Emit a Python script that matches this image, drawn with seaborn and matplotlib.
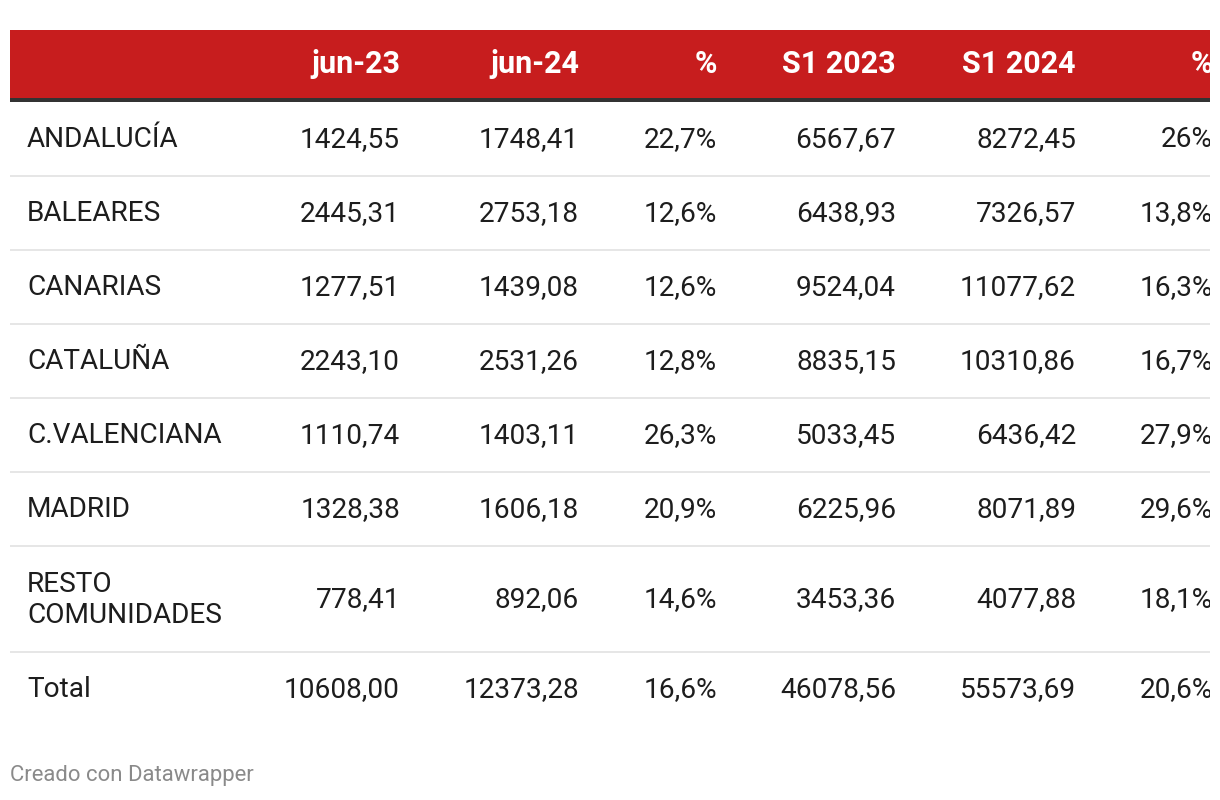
import matplotlib
matplotlib.use("Agg")
import matplotlib.pyplot as plt
import seaborn as sns
from matplotlib.patches import Rectangle

# ---- data ----
columns = ["jun-23", "jun-24", "%", "S1 2023", "S1 2024", "%"]
regions = ["ANDALUCÍA", "BALEARES", "CANARIAS", "CATALUÑA", "C.VALENCIANA",
           "MADRID", "RESTO\nCOMUNIDADES", "Total"]
jun23 = [1424.55, 2445.31, 1277.51, 2243.10, 1110.74, 1328.38, 778.41, 10608.00]
jun24 = [1748.41, 2753.18, 1439.08, 2531.26, 1403.11, 1606.18, 892.06, 12373.28]
pct_jun = [22.7, 12.6, 12.6, 12.8, 26.3, 20.9, 14.6, 16.6]
s1_2023 = [6567.67, 6438.93, 9524.04, 8835.15, 5033.45, 6225.96, 3453.36, 46078.56]
s1_2024 = [8272.45, 7326.57, 11077.62, 10310.86, 6436.42, 8071.89, 4077.88, 55573.69]
pct_s1 = [26.0, 13.8, 16.3, 16.7, 27.9, 29.6, 18.1, 20.6]
footer = "Creado con Datawrapper"

sns.set_theme(style="white")
plt.rcParams['font.family'] = ['Roboto', 'DejaVu Sans']

def fnum(v):
    return f"{v:.2f}".replace(".", ",")

def fpct(v):
    s = f"{v:.1f}"
    if s.endswith(".0"):
        s = s[:-2]
    return s.replace(".", ",") + "%"

fig = plt.figure(figsize=(12.2, 8.0), dpi=100)
ax = fig.add_axes([0, 0, 1, 1])
ax.set_xlim(0, 1220)
ax.set_ylim(800, 0)
ax.axis("off")

RED = "#c71d1e"
TXT = "#1d1d1d"
FS = 20.2
HFS = 22

# header
ax.add_patch(Rectangle((10, 30), 1200, 68, color=RED, lw=0))
ax.add_patch(Rectangle((10, 98), 1200, 4, color="#333333", lw=0))
col_right = [400, 579, 717, 896, 1076, 1213]
for x, c in zip(col_right, columns):
    ax.text(x, 64, c, ha="right", va="center", color="white",
            fontsize=HFS, fontweight="bold")

# rows
row_h = [74, 74, 74, 74, 74, 74, 106, 74]
y = 102
for i, name in enumerate(regions):
    h = row_h[i]
    cy = y + h / 2
    if "\n" in name:
        ax.text(27, cy + 1, name, ha="left", va="center", color=TXT,
                fontsize=FS, linespacing=1.15)
    else:
        ax.text(27, cy + 8, name, ha="left", va="baseline", color=TXT,
                fontsize=FS)
    vals = [fnum(jun23[i]), fnum(jun24[i]), fpct(pct_jun[i]),
            fnum(s1_2023[i]), fnum(s1_2024[i]), fpct(pct_s1[i])]
    for x, v in zip(col_right, vals):
        ax.text(x, cy + 8, v, ha="right", va="baseline", color=TXT,
                fontsize=FS)
    y += h
    if i < len(regions) - 1:
        ax.plot([10, 1210], [y, y], color="#e6e6e6", lw=1.4,
                solid_capstyle="butt")

# clip right edge
ax.add_patch(Rectangle((1210, 0), 20, 800, color="white", lw=0, zorder=5))

ax.text(10, 776, footer, ha="left", va="center", color="#8a8a8a", fontsize=15.9)

fig.savefig("out.png", dpi=100)
